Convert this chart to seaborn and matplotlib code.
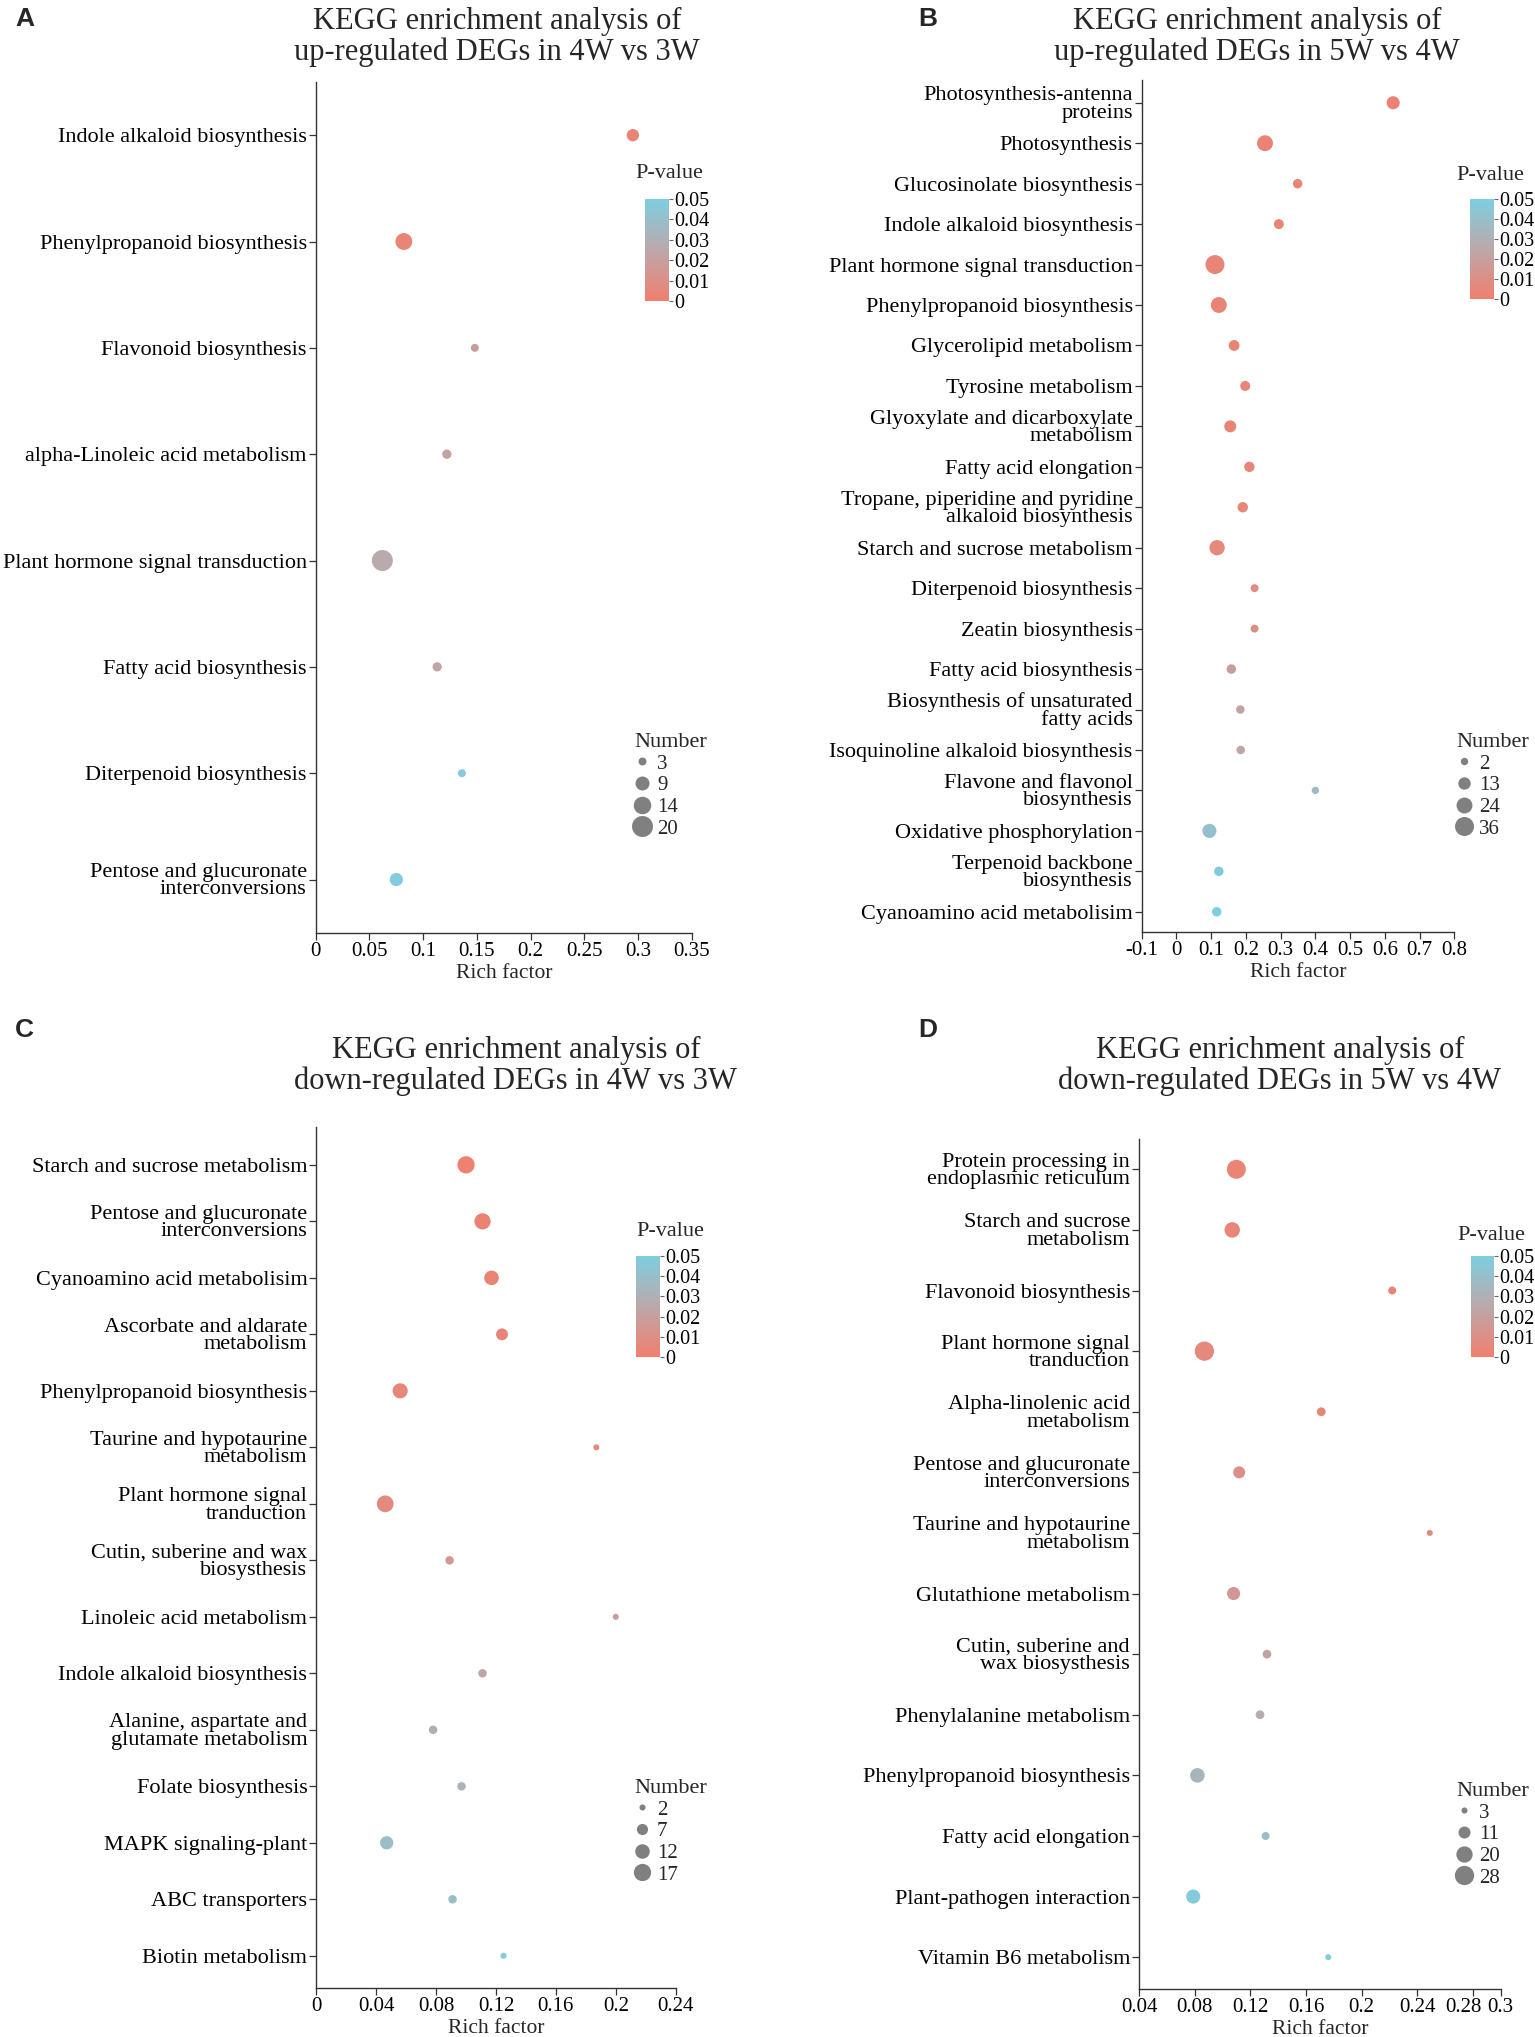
import numpy as np
import pandas as pd
import matplotlib
matplotlib.use("Agg")
import matplotlib.pyplot as plt
import matplotlib.transforms as mtrans
import seaborn as sns
from matplotlib.colors import LinearSegmentedColormap, Normalize
from matplotlib.cm import ScalarMappable
from matplotlib.lines import Line2D

# ---- panel A: up-regulated, 4W vs 3W
a_terms = ["Indole alkaloid biosynthesis", "Phenylpropanoid biosynthesis",
           "Flavonoid biosynthesis", "alpha-Linoleic acid metabolism",
           "Plant hormone signal transduction", "Fatty acid biosynthesis",
           "Diterpenoid biosynthesis", "Pentose and glucuronate\ninterconversions"]
a_rich = [0.295, 0.082, 0.148, 0.122, 0.062, 0.113, 0.136, 0.075]
a_count = [7, 13, 3, 4, 20, 4, 3, 8]
a_pval = [0.003, 0.004, 0.019, 0.021, 0.026, 0.023, 0.046, 0.049]
a_xticks = [0, 0.05, 0.1, 0.15, 0.2, 0.25, 0.3, 0.35]
a_legend = [3, 9, 14, 20]

# ---- panel B: up-regulated, 5W vs 4W
b_terms = ["Photosynthesis-antenna\nproteins", "Photosynthesis",
           "Glucosinolate biosynthesis", "Indole alkaloid biosynthesis",
           "Plant hormone signal transduction", "Phenylpropanoid biosynthesis",
           "Glycerolipid metabolism", "Tyrosine metabolism",
           "Glyoxylate and dicarboxylate\nmetabolism", "Fatty acid elongation",
           "Tropane, piperidine and pyridine\nalkaloid biosynthesis",
           "Starch and sucrose metabolism", "Diterpenoid biosynthesis",
           "Zeatin biosynthesis", "Fatty acid biosynthesis",
           "Biosynthesis of unsaturated\nfatty acids",
           "Isoquinoline alkaloid biosynthesis",
           "Flavone and flavonol\nbiosynthesis", "Oxidative phosphorylation",
           "Terpenoid backbone\nbiosynthesis", "Cyanoamino acid metabolisim"]
b_rich = [0.624, 0.255, 0.349, 0.295, 0.111, 0.122, 0.166, 0.198, 0.155, 0.210,
          0.191, 0.117, 0.225, 0.225, 0.158, 0.184, 0.185, 0.400, 0.095, 0.122, 0.116]
b_count = [15, 24, 6, 7, 36, 24, 9, 7, 12, 8, 8, 22, 3, 3, 6, 4, 4, 2, 18, 6, 6]
b_pval = [0.002, 0.002, 0.003, 0.003, 0.004, 0.004, 0.004, 0.004, 0.004, 0.005, 0.005,
          0.006, 0.008, 0.009, 0.019, 0.022, 0.023, 0.036, 0.041, 0.048, 0.05]
b_xticks = [-0.1, 0, 0.1, 0.2, 0.3, 0.4, 0.5, 0.6, 0.7, 0.8]
b_legend = [2, 13, 24, 36]

# ---- panel C: down-regulated, 4W vs 3W
c_terms = ["Starch and sucrose metabolism", "Pentose and glucuronate\ninterconversions",
           "Cyanoamino acid metabolisim", "Ascorbate and aldarate\nmetabolism",
           "Phenylpropanoid biosynthesis", "Taurine and hypotaurine\nmetabolism",
           "Plant hormone signal\ntranduction", "Cutin, suberine and wax\nbiosysthesis",
           "Linoleic acid metabolism", "Indole alkaloid biosynthesis",
           "Alanine, aspartate and\nglutamate metabolism", "Folate biosynthesis",
           "MAPK signaling-plant", "ABC transporters", "Biotin metabolism"]
c_rich = [0.100, 0.111, 0.117, 0.124, 0.056, 0.187, 0.046, 0.089, 0.200, 0.111,
          0.078, 0.097, 0.047, 0.091, 0.125]
c_count = [17, 15, 12, 8, 13, 2, 16, 4, 2, 4, 4, 4, 10, 4, 2]
c_pval = [0.001, 0.002, 0.003, 0.004, 0.005, 0.006, 0.007, 0.015, 0.019, 0.024,
          0.028, 0.032, 0.038, 0.040, 0.048]
c_xticks = [0, 0.04, 0.08, 0.12, 0.16, 0.2, 0.24]
c_legend = [2, 7, 12, 17]

# ---- panel D: down-regulated, 5W vs 4W
d_terms = ["Protein processing in\nendoplasmic reticulum", "Starch and sucrose\nmetabolism",
           "Flavonoid biosynthesis", "Plant hormone signal\ntranduction",
           "Alpha-linolenic acid\nmetabolism", "Pentose and glucuronate\ninterconversions",
           "Taurine and hypotaurine\nmetabolism", "Glutathione metabolism",
           "Cutin, suberine and\nwax biosysthesis", "Phenylalanine metabolism",
           "Phenylpropanoid biosynthesis", "Fatty acid elongation",
           "Plant-pathogen interaction", "Vitamin B6 metabolism"]
d_rich = [0.110, 0.107, 0.222, 0.087, 0.171, 0.112, 0.249, 0.108, 0.132, 0.127,
          0.082, 0.131, 0.079, 0.176]
d_count = [27, 18, 5, 28, 6, 11, 3, 13, 6, 6, 16, 5, 15, 3]
d_pval = [0.003, 0.004, 0.002, 0.006, 0.004, 0.010, 0.007, 0.015, 0.022, 0.027,
          0.033, 0.040, 0.047, 0.05]
d_xticks = [0.04, 0.08, 0.12, 0.16, 0.2, 0.24, 0.28, 0.3]
d_legend = [3, 11, 20, 28]

W, H = 1535, 2037
sns.set_style("ticks")
plt.rcParams['font.family'] = ['Liberation Serif', 'DejaVu Serif']
plt.rcParams['axes.edgecolor'] = '#333333'
plt.rcParams['xtick.color'] = '#333333'
plt.rcParams['ytick.color'] = '#333333'
plt.rcParams['xtick.labelcolor'] = 'black'
plt.rcParams['ytick.labelcolor'] = 'black'

cmap = LinearSegmentedColormap.from_list('pv', ['#F07F6E', '#BCA8AA', '#7ECEE0'])
pnorm = Normalize(0, 0.05)

fig = plt.figure(figsize=(W / 100, H / 100), dpi=100)


def fx(px):
    return px / W


def fy(py):
    return 1 - py / H


panels = [
    dict(letter='A', terms=a_terms, rich=a_rich, count=a_count, pval=a_pval,
         xticks=a_xticks, leg=a_legend, sizes=(33, 228),
         box=(315.7, 82, 692, 932.7), ypad=(0.5, 0.5),
         title="KEGG enrichment analysis of\nup-regulated DEGs in 4W vs 3W",
         tpos=(497, 37), lpos=(15, 19), cbar=(645, 199, 669, 301), cbt=(669, 174),
         sleg=(634, 733)),
    dict(letter='B', terms=b_terms, rich=b_rich, count=b_count, pval=b_pval,
         xticks=b_xticks, leg=b_legend, sizes=(28, 187),
         box=(1141.7, 80.5, 1454.3, 932), ypad=(0.55, 0.5),
         title="KEGG enrichment analysis of\nup-regulated DEGs in 5W vs 4W",
         tpos=(1257, 37), lpos=(918, 19), cbar=(1470, 199, 1494, 299), cbt=(1490, 175),
         sleg=(1456, 733)),
    dict(letter='C', terms=c_terms, rich=c_rich, count=c_count, pval=c_pval,
         xticks=c_xticks, leg=c_legend, sizes=(19, 155),
         box=(316.3, 1127, 675.7, 1988), ypad=(0.67, 0.57),
         title="KEGG enrichment analysis of\ndown-regulated DEGs in 4W vs 3W",
         tpos=(516, 1066), lpos=(15, 1030), cbar=(636, 1256, 660, 1357), cbt=(670, 1232),
         sleg=(634, 1779)),
    dict(letter='D', terms=d_terms, rich=d_rich, count=d_count, pval=d_pval,
         xticks=d_xticks, leg=d_legend, sizes=(19, 193),
         box=(1139, 1139, 1500.7, 1988.7), ypad=(0.5, 0.52),
         title="KEGG enrichment analysis of\ndown-regulated DEGs in 5W vs 4W",
         tpos=(1280, 1066), lpos=(918, 1030), cbar=(1471, 1256, 1494, 1357), cbt=(1491, 1236),
         sleg=(1456, 1782)),
]

for p in panels:
    x0, y0, x1, y1 = p['box']
    ax = fig.add_axes([fx(x0), fy(y1), (x1 - x0) / W, (y1 - y0) / H])
    df = pd.DataFrame({'Term': p['terms'], 'Rich': p['rich'],
                       'Number': p['count'], 'P': p['pval']})
    lo, hi = p['leg'][0], p['leg'][-1]
    sns.scatterplot(data=df, x='Rich', y='Term', hue='P', palette=cmap, hue_norm=(0, 0.05),
                    size='Number', sizes=p['sizes'], size_norm=(lo, hi),
                    linewidth=0, legend=False, ax=ax, zorder=3)
    n = len(p['terms'])
    ax.set_ylim(n - 1 + p['ypad'][1], -p['ypad'][0])
    ax.set_xlim(p['xticks'][0], p['xticks'][-1])
    ax.set_xticks(p['xticks'])
    ax.set_xticklabels([f'{round(v, 2):g}' for v in p['xticks']])
    ax.set_xlabel('Rich factor', fontsize=15.5, labelpad=2)
    ax.set_ylabel('')
    ax.tick_params(axis='both', direction='out', length=5, width=0.9, pad=1.5)
    ax.tick_params(axis='y', labelsize=16)
    ax.tick_params(axis='x', labelsize=15)
    for lab in ax.get_yticklabels():
        lab.set_linespacing(0.88)
    if p['letter'] == 'D':
        # nudge 0.28 left so it does not run into 0.3 at the axis end
        lab = ax.get_xticklabels()[-2]
        lab.set_transform(lab.get_transform() +
                          mtrans.ScaledTranslation(-9 / 100, 0, fig.dpi_scale_trans))
    sns.despine(ax=ax)
    for s in ['left', 'bottom']:
        ax.spines[s].set_linewidth(1.0)

    # title and panel letter
    fig.text(fx(p['tpos'][0]), fy(p['tpos'][1]), p['title'], ha='center', va='center',
             fontsize=22, linespacing=1.08)
    fig.text(fx(p['lpos'][0]), fy(p['lpos'][1]), p['letter'], ha='left', va='center',
             fontsize=19, fontweight='bold', family=['Liberation Sans', 'DejaVu Sans'])

    # P-value colour bar
    cx0, cy0, cx1, cy1 = p['cbar']
    cax = fig.add_axes([fx(cx0), fy(cy1), (cx1 - cx0) / W, (cy1 - cy0) / H])
    cb = fig.colorbar(ScalarMappable(norm=pnorm, cmap=cmap), cax=cax)
    cb.outline.set_visible(False)
    cb.set_ticks([0, 0.01, 0.02, 0.03, 0.04, 0.05])
    cb.set_ticklabels(['0', '0.01', '0.02', '0.03', '0.04', '0.05'])
    cax.tick_params(length=3, width=0.8, labelsize=14.5, pad=1, color='#666666')
    fig.text(fx(p['cbt'][0]), fy(p['cbt'][1]), 'P-value', ha='center', va='center',
             fontsize=16)

    # Number size legend
    smin, smax = p['sizes']
    handles = []
    for v in p['leg']:
        area = smin + (v - lo) / (hi - lo) * (smax - smin)
        handles.append(Line2D([], [], marker='o', linestyle='', markersize=np.sqrt(area),
                              markerfacecolor='#808080', markeredgewidth=0))
    fig.legend(handles, [str(v) for v in p['leg']], title='Number', loc='upper left',
               bbox_to_anchor=(fx(p['sleg'][0]), fy(p['sleg'][1])), frameon=False,
               fontsize=15, title_fontsize=16, handletextpad=0.3, labelspacing=0.1,
               borderpad=0, borderaxespad=0, handlelength=0.8, alignment='left')

fig.savefig('out.png', dpi=100)
